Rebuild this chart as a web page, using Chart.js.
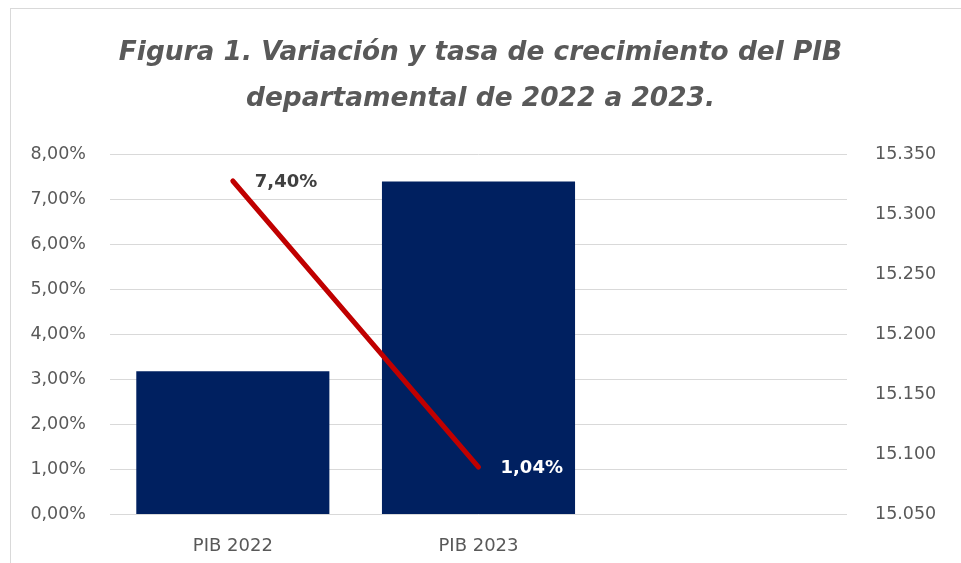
<!DOCTYPE html>
<html>
<head>
<meta charset="utf-8">
<script src="https://cdn.jsdelivr.net/npm/chart.js@4.4.1/dist/chart.umd.min.js"></script>
<style>
    html, body { margin: 0; padding: 0; background: #ffffff; overflow: hidden; }
    #frame { position: absolute; left: 10px; top: 8px; width: 1000px; height: 600px; border: 1px solid #d9d9d9; }
    #wrap { position: absolute; left: 0; top: 0; width: 961px; height: 563px; }
</style>
</head>
<body>
<div id="frame"></div>
<div id="wrap"><canvas id="pibChart" width="961" height="563"></canvas></div>
<script>
// Chart data
const categories = ['PIB 2022', 'PIB 2023', ''];
const pibValues = [15169, 15327, null];      // right axis
const growthRates = [7.40, 1.04, null];      // left axis, in %
const growthLabels = ['7,40%', '1,04%'];
const growthLabelColors = ['#404040', '#ffffff'];

const textGray = '#595959';
const gridGray = '#d9d9d9';

// Format numbers the Spanish way
function pctLabel(v) {
    return v.toFixed(2).replace('.', ',') + '%';
}
function thousandsLabel(v) {
    return Math.round(v).toString().replace(/\B(?=(\d{3})+(?!\d))/g, '.');
}

// Draws the value labels next to the line points
const lineLabels = {
    id: 'lineLabels',
    afterDatasetsDraw(chart) {
        const meta = chart.getDatasetMeta(0);
        const ctx = chart.ctx;
        ctx.save();
        ctx.font = 'bold 18px "DejaVu Sans"';
        ctx.textAlign = 'left';
        ctx.textBaseline = 'middle';
        meta.data.forEach((pt, i) => {
            if (growthRates[i] == null) return;
            ctx.fillStyle = growthLabelColors[i];
            ctx.fillText(growthLabels[i], pt.x + 22, pt.y + 1);
        });
        ctx.restore();
    }
};

const ctx = document.getElementById('pibChart').getContext('2d');
new Chart(ctx, {
    data: {
        labels: categories,
        datasets: [
            {
                type: 'line',
                label: 'Tasa de crecimiento',
                data: growthRates,
                yAxisID: 'yLeft',
                borderColor: '#c00000',
                borderWidth: 5,
                borderCapStyle: 'round',
                pointRadius: 0,
                tension: 0,
                order: 0
            },
            {
                type: 'bar',
                label: 'PIB',
                data: pibValues,
                yAxisID: 'yRight',
                backgroundColor: '#002060',
                categoryPercentage: 1,
                barPercentage: 0.786,
                order: 1
            }
        ]
    },
    options: {
        responsive: false,
        animation: false,
        layout: { padding: { top: 30, left: 0, right: 0, bottom: 0 } },
        plugins: {
            legend: { display: false },
            tooltip: { enabled: false },
            title: {
                display: true,
                text: ['Figura 1. Variación y tasa de crecimiento del PIB', 'departamental de 2022 a 2023.'],
                color: textGray,
                font: { family: '"DejaVu Sans"', size: 26.4, weight: 'bold', style: 'italic', lineHeight: 1.75 },
                padding: { top: 0, bottom: 31.6 }
            }
        },
        scales: {
            x: {
                grid: { display: false },
                border: { display: false },
                ticks: { color: textGray, font: { family: '"DejaVu Sans"', size: 18 }, padding: 14 },
                afterFit(s) { s.height = 49; }
            },
            yLeft: {
                position: 'left',
                min: 0,
                max: 8,
                grid: { color: gridGray, lineWidth: 1, drawTicks: false },
                border: { display: false },
                ticks: {
                    stepSize: 1,
                    color: textGray,
                    font: { family: '"DejaVu Sans"', size: 17.5 },
                    padding: 24,
                    callback: v => pctLabel(v)
                },
                afterFit(s) { s.width = 110; }
            },
            yRight: {
                position: 'right',
                min: 15050,
                max: 15350,
                grid: { display: false, drawTicks: false },
                border: { display: false },
                ticks: {
                    stepSize: 50,
                    color: textGray,
                    font: { family: '"DejaVu Sans"', size: 17.5 },
                    padding: 28,
                    callback: v => thousandsLabel(v)
                },
                afterFit(s) { s.width = 114; }
            }
        }
    },
    plugins: [lineLabels]
});
</script>
</body>
</html>
